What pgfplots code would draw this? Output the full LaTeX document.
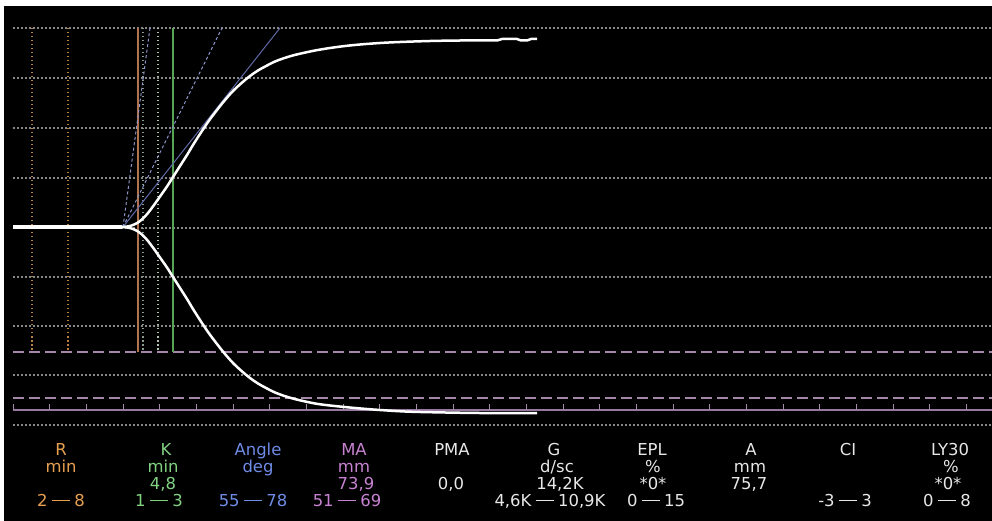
\documentclass[border=0pt]{standalone}
\usepackage{pgfplots}
\pgfplotsset{compat=1.18}
\usepackage{fontspec}
\setmainfont{DejaVu Sans}
\definecolor{cR}{RGB}{232,160,80}
\definecolor{cK}{RGB}{130,210,130}
\definecolor{cA}{RGB}{110,140,230}
\definecolor{cM}{RGB}{200,130,210}
\definecolor{cW}{RGB}{232,232,232}
\definecolor{gridc}{RGB}{135,135,135}
\definecolor{purp}{RGB}{150,120,160}
\definecolor{purpd}{RGB}{165,135,170}
\definecolor{brownc}{RGB}{175,115,80}
\definecolor{gdot}{RGB}{175,195,175}
\definecolor{gsol}{RGB}{85,165,85}
\definecolor{adash}{RGB}{140,150,205}
\definecolor{asol}{RGB}{95,105,165}
\newcommand{\rng}{\hspace{0.26em}\rule[0.32em]{1.1em}{0.06em}\hspace{0.26em}}
\tikzset{lbl/.style={font=\fontsize{16.5}{18}\selectfont, anchor=base, inner sep=0pt}}
\begin{document}
\begin{tikzpicture}
\begin{axis}[
  scale only axis, width=992bp, height=521bp,
  xmin=0, xmax=992, ymin=0, ymax=521, y dir=reverse,
  axis line style={draw=none}, xtick=\empty, ytick=\empty,
  axis background/.style={fill=black},
  clip=true,
  gridl/.style={draw=gridc, line width=1.3bp, dash pattern=on 1.5bp off 2.5bp},
]
\fill[white] (axis cs:0,0) rectangle (axis cs:992,6);
\fill[white] (axis cs:0,0) rectangle (axis cs:4,521);
% dotted grid lines
\addplot[gridl] coordinates {(13,28)(992,28)};
\addplot[gridl] coordinates {(13,78)(992,78)};
\addplot[gridl] coordinates {(13,128)(992,128)};
\addplot[gridl] coordinates {(13,178)(992,178)};
\addplot[gridl] coordinates {(13,228)(992,228)};
\addplot[gridl] coordinates {(13,277)(992,277)};
\addplot[gridl] coordinates {(13,326)(992,326)};
\addplot[gridl] coordinates {(13,375)(992,375)};
\addplot[gridl] coordinates {(13,425)(992,425)};
% dashed purple limits
\addplot[purpd, line width=2bp, dash pattern=on 11bp off 5bp] coordinates {(13,352)(992,352)};
\addplot[purpd, line width=2bp, dash pattern=on 11bp off 5bp] coordinates {(13,398)(992,398)};
% solid baseline with ticks
\addplot[purp, line width=2bp] coordinates {(13,410)(992,410)};
\addplot[purpd, line width=1bp, quiver={u=0,v=-6}] coordinates {
(13,410)(49.7,410)(86.3,410)(123,410)(159.7,410)(196.3,410)(233,410)(269.7,410)(306.3,410)
(343,410)(379.7,410)(416.3,410)(453,410)(489.7,410)(526.3,410)(563,410)(599.7,410)(636.3,410)
(673,410)(709.7,410)(746.3,410)(783,410)(819.7,410)(856.3,410)(893,410)(929.7,410)(966.3,410)};
% R range
\addplot[cR!80!black, line width=1.3bp, dash pattern=on 1.5bp off 2.5bp] coordinates {(32,28)(32,352)};
\addplot[cR!80!black, line width=1.3bp, dash pattern=on 1.5bp off 2.5bp] coordinates {(68,28)(68,352)};
\addplot[brownc, line width=1.6bp] coordinates {(138,28)(138,352)};
% K range
\addplot[gdot!80!black, line width=1.3bp, dash pattern=on 1.5bp off 2.5bp] coordinates {(143,28)(143,352)};
\addplot[gdot, line width=1.3bp, dash pattern=on 1.5bp off 2.5bp] coordinates {(158,28)(158,352)};
\addplot[gsol, line width=1.3bp] coordinates {(173,28)(173,352)};
% angle lines
\addplot[adash, line width=1bp, dash pattern=on 3bp off 2.5bp] coordinates {(123,227)(150,28)};
\addplot[adash, line width=1bp, dash pattern=on 3bp off 2.5bp] coordinates {(123,227)(222,28)};
\addplot[asol, line width=1bp] coordinates {(123,227)(280,28)};
% trace
\addplot[white, line width=3.5bp] coordinates {(13,227)(122,227)};
\addplot[white, line width=2.5bp, smooth, tension=0.5] coordinates {
(122,227)(128,226.4)(133,225)(138,222.5)(143,218.5)(148,213)(154,205)(160,196.5)(167,186.5)
(173,177)(180,166)(187,155)(193,145)(200,134)(208,122)(217,110)(225,100)(233,91)(241,83.5)
(250,76)(258,70.5)(267,65.5)(275,61.5)(283,58.5)(292,55.7)(300,53.7)(315,50.5)(330,48)
(345,46)(360,44.5)(380,43)(400,42)(430,41)(460,40.5)(497,40.5)};
\addplot[white, line width=2.5bp] coordinates {(497,40.5)(502,39)(517,39)(521,40.5)(527,40.5)(531,39)(537,39)};
\addplot[white, line width=2.5bp, smooth, tension=0.5] coordinates {
(122,227)(128,227.6)(133,229)(138,231.5)(143,235.5)(148,241)(154,249)(160,257.5)(167,267.5)
(173,277)(180,288)(187,299)(193,309)(200,320)(208,332)(217,344)(225,354)(233,363)(241,370.5)
(250,378)(258,383.5)(267,388.5)(275,392.5)(283,395.5)(292,398.3)(300,400.3)(315,403.5)(330,405.5)
(355,408)(380,410)(405,411.5)(430,412.2)(480,413)(537,413)};
% text table
\node[lbl,cR] at (axis cs:61,455) {R};
\node[lbl,cR] at (axis cs:61,472) {min};
\node[lbl,cR] at (axis cs:61,506) {2\rng8};
\node[lbl,cK] at (axis cs:166,455) {K};
\node[lbl,cK] at (axis cs:163,472) {min};
\node[lbl,cK] at (axis cs:163,489) {4,8};
\node[lbl,cK] at (axis cs:159,506) {1\rng3};
\node[lbl,cA] at (axis cs:258,455) {Angle};
\node[lbl,cA] at (axis cs:258,472) {deg};
\node[lbl,cA] at (axis cs:253,506) {55\rng78};
\node[lbl,cM] at (axis cs:354,455) {MA};
\node[lbl,cM] at (axis cs:354,472) {mm};
\node[lbl,cM] at (axis cs:356,489) {73,9};
\node[lbl,cM] at (axis cs:347,506) {51\rng69};
\node[lbl,cW] at (axis cs:452,455) {PMA};
\node[lbl,cW] at (axis cs:451,489) {0,0};
\node[lbl,cW] at (axis cs:554,455) {G};
\node[lbl,cW] at (axis cs:557,472) {d/sc};
\node[lbl,cW] at (axis cs:560,489) {14,2K};
\node[lbl,cW] at (axis cs:550,506) {4,6K\rng10,9K};
\node[lbl,cW] at (axis cs:652,455) {EPL};
\node[lbl,cW] at (axis cs:653,472) {\%};
\node[lbl,cW] at (axis cs:653,489) {*0*};
\node[lbl,cW] at (axis cs:656,506) {0\rng15};
\node[lbl,cW] at (axis cs:751,455) {A};
\node[lbl,cW] at (axis cs:750,472) {mm};
\node[lbl,cW] at (axis cs:749,489) {75,7};
\node[lbl,cW] at (axis cs:848,455) {CI};
\node[lbl,cW] at (axis cs:845,506) {-3\rng3};
\node[lbl,cW] at (axis cs:950,455) {LY30};
\node[lbl,cW] at (axis cs:951,472) {\%};
\node[lbl,cW] at (axis cs:948,489) {*0*};
\node[lbl,cW] at (axis cs:947,506) {0\rng8};
\end{axis}
\end{tikzpicture}
\end{document}
